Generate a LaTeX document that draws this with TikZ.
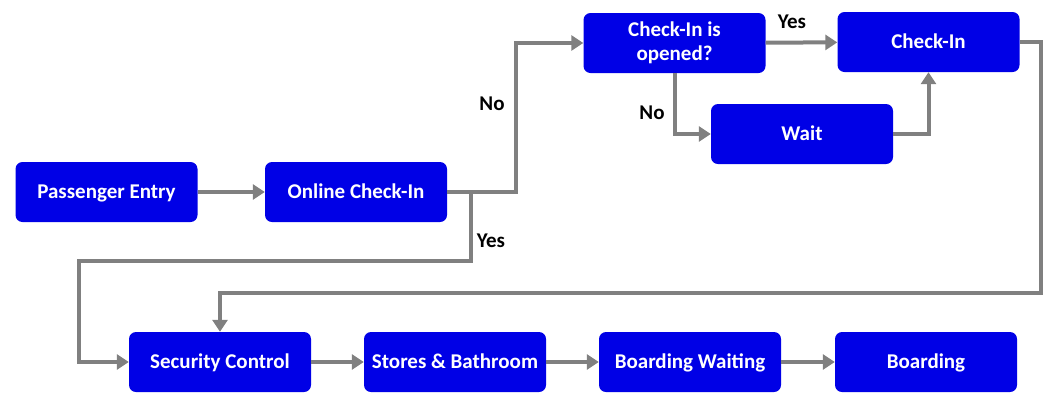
\documentclass[tikz,border=0pt]{standalone}
\usepackage{fontspec}
\setmainfont{Carlito}
\usetikzlibrary{arrows.meta}
\definecolor{boxblue}{RGB}{0,0,230}
\definecolor{linegray}{RGB}{128,128,128}
\begin{document}
\begin{tikzpicture}[x=1pt,y=-1pt,
  box/.style={draw=none,fill=boxblue,rounded corners=7pt,minimum width=182pt,minimum height=60pt,
    text=white,font=\fontsize{21}{24}\selectfont\bfseries,align=center,inner sep=0pt},
  one/.style={text height=17pt,text depth=4pt},
  conn/.style={draw=linegray,line width=4pt,-{Triangle[length=12pt,width=15pt]}},
  lab/.style={font=\fontsize{21}{23}\selectfont\bfseries,text=black}]
\useasboundingbox (0,0) rectangle (1049,392);
\node[box,one] (pe) at (106.5,192) {Passenger Entry};
\node[box,one] (oc) at (356,192) {Online Check-In};
\node[box] (op) at (674.5,43) {Check-In is\\opened?};
\node[box,one] (ci) at (928.5,42) {Check-In};
\node[box,one] (wt) at (802,134) {Wait};
\node[box,one] (sc) at (220,362) {Security Control};
\node[box,one] (sb) at (455,362) {Stores \& Bathroom};
\node[box,one] (bw) at (690,362) {Boarding Waiting};
\node[box,one] (bd) at (926,362) {Boarding};
\coordinate (c1) at (516,192);
\coordinate (c2) at (471,192);
\draw[conn] (pe) -- (oc);
\draw[conn] (oc.east) -- (c1) |- (op.west);
\draw[conn] (oc.east) -- (c2) -- (471,261) -| (79,362) -- (sc.west);
\draw[conn] (op) -- (ci);
\draw[conn] (op.south) |- (wt.west);
\draw[conn] (wt.east) -| (ci.south);
\draw[conn] (ci.east) -- (1041,42) -- (1041,293) -| (sc.north);
\draw[conn] (sc) -- (sb);
\draw[conn] (sb) -- (bw);
\draw[conn] (bw) -- (bd);
\node[lab] (l1) at (492,104) {No};
\node[lab] (l2) at (491,241) {Yes};
\node[lab] (l3) at (792,22) {Yes};
\node[lab] (l4) at (652,113) {No};
\end{tikzpicture}
\end{document}
